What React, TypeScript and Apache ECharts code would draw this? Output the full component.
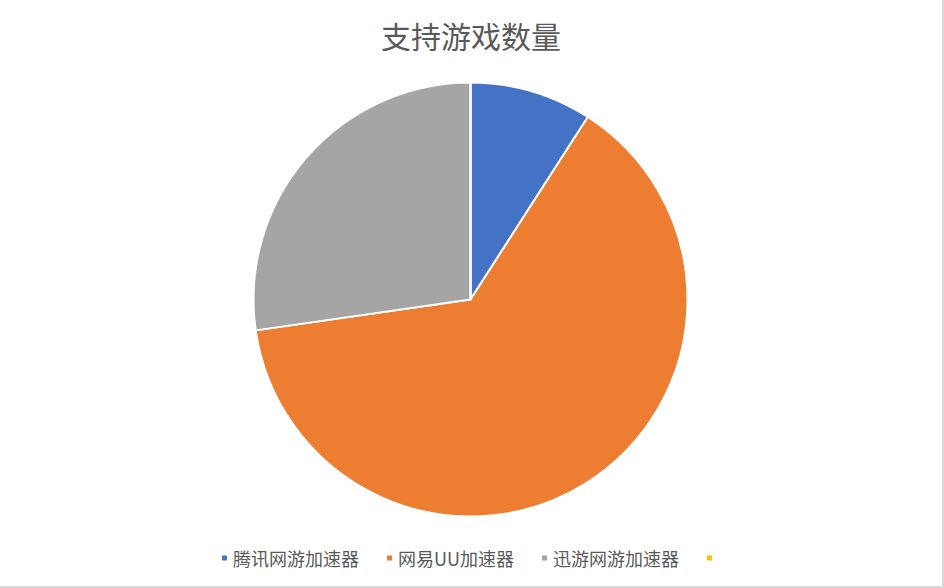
import React, { useEffect, useRef } from 'react';
import * as echarts from 'echarts';

const titleText = '支持游戏数量';
const names = ['腾讯网游加速器', '网易UU加速器', '迅游网游加速器', ' '];
const values = [100, 700, 300, 0];
const colors = ['#4472c4', '#ed7d31', '#a5a5a5', '#ffc000'];

const FONT = '"Noto Sans CJK SC", "Noto Sans", sans-serif';

const App: React.FC = () => {
  const chartRef = useRef<HTMLDivElement>(null);

  useEffect(() => {
    document.body.style.margin = '0';
    if (!chartRef.current) return;
    const chart = echarts.init(chartRef.current, undefined, { renderer: 'svg' });

    chart.setOption({
      animation: false,
      backgroundColor: '#ffffff',
      title: {
        text: titleText,
        left: 'center',
        top: 15,
        textStyle: {
          fontSize: 30,
          fontWeight: 'normal',
          color: '#595959',
          fontFamily: FONT,
        },
      },
      legend: {
        top: 544,
        left: 'center',
        icon: 'rect',
        itemWidth: 7,
        itemHeight: 7,
        itemGap: 26,
        data: names,
        textStyle: {
          fontSize: 18,
          color: '#595959',
          fontFamily: FONT,
        },
      },
      series: [
        {
          name: titleText,
          type: 'pie',
          center: [470.5, 299.5],
          radius: 217,
          startAngle: 90,
          label: { show: false },
          labelLine: { show: false },
          itemStyle: { borderColor: '#ffffff', borderWidth: 2 },
          data: names.map((n, i) => ({
            name: n,
            value: values[i],
            itemStyle: { color: colors[i] },
          })),
        },
      ],
    });

    return () => {
      chart.dispose();
    };
  }, []);

  return (
    <div
      style={{
        width: 944,
        height: 588,
        boxSizing: 'border-box',
        borderRight: '2px solid #d9d9d9',
        borderBottom: '2px solid #d9d9d9',
      }}
    >
      <div ref={chartRef} style={{ width: 942, height: 586 }} />
    </div>
  );
};

export default App;
